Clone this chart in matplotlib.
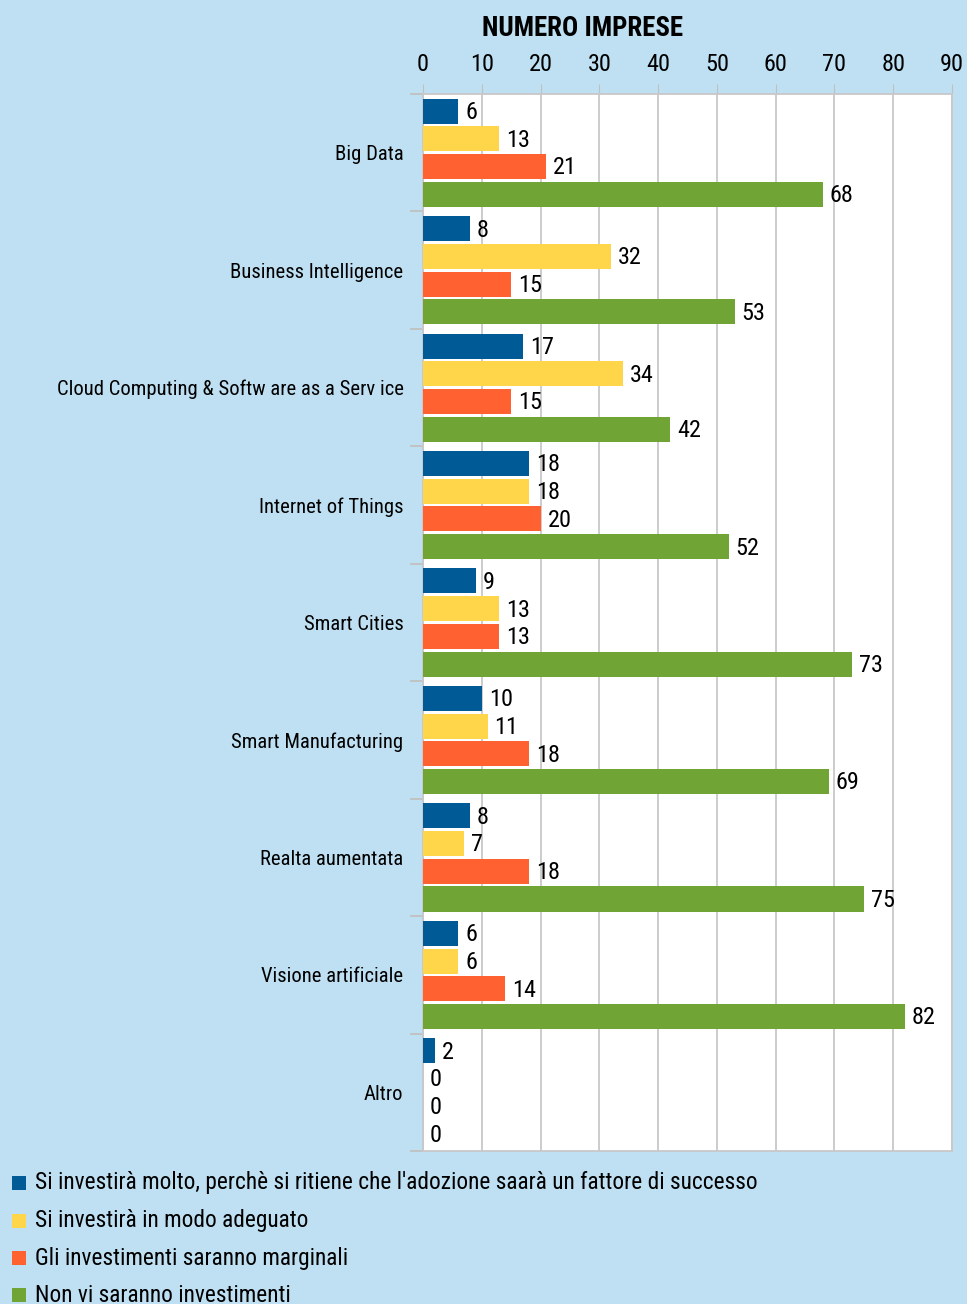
import matplotlib
matplotlib.use("Agg")
import matplotlib.pyplot as plt
from matplotlib.patches import Rectangle
import numpy as np

categories = ["Big Data", "Business Intelligence", "Cloud Computing & Softw are as a Serv ice",
              "Internet of Things", "Smart Cities", "Smart Manufacturing",
              "Realta aumentata", "Visione artificiale", "Altro"]
series_names = ["Si investirà molto, perchè si ritiene che l'adozione saarà un fattore di successo",
                "Si investirà in modo adeguato",
                "Gli investimenti saranno marginali",
                "Non vi saranno investimenti"]
molto = [6, 8, 17, 18, 9, 10, 8, 6, 2]
adeguato = [13, 32, 34, 18, 13, 11, 7, 6, 0]
marginali = [21, 15, 15, 20, 13, 18, 18, 14, 0]
nessuno = [68, 53, 42, 52, 73, 69, 75, 82, 0]
xticks = [0, 10, 20, 30, 40, 50, 60, 70, 80, 90]
title = "NUMERO IMPRESE"

colors = ["#005A96", "#FFD54A", "#FF6130", "#70A535"]
bg = "#BEE0F2"
plt.rcParams['font.family'] = ['Roboto Condensed', 'DejaVu Sans']

fig = plt.figure(figsize=(9.67, 13.04), dpi=100, facecolor=bg)
ax = fig.add_axes([0.4374, 0.1173, 0.5471, 0.8106])
ax.set_facecolor("white")

y = np.arange(len(categories))
step = 0.236
h = 0.213
all_series = [molto, adeguato, marginali, nessuno]
for k, (vals, c) in enumerate(zip(all_series, colors)):
    pos = y + (k - 1.5) * step
    ax.barh(pos, vals, height=h, color=c, zorder=3)
    for p, v in zip(pos, vals):
        ax.annotate(str(v), (v, p), xytext=(5, -1), textcoords="offset points",
                    ha="left", va="center", fontsize=17.5, color="black")

ax.set_xlim(0, 90)
ax.set_ylim(len(categories) - 0.5, -0.5)
ax.set_xticks(xticks)
ax.xaxis.tick_top()
ax.tick_params(axis="x", which="major", length=7, color="#C0C0C0", labelsize=17.5, pad=6)
ax.grid(axis="x", color="#C8C8C8", linewidth=1.3, zorder=0)
ax.set_yticks(y)
ax.set_yticklabels(categories, fontsize=14.9)
ax.set_yticks(np.arange(-0.5, len(categories)), minor=True)
ax.tick_params(axis="y", which="major", length=0, pad=14)
ax.tick_params(axis="y", which="minor", length=9.5, color="#C0C0C0", width=1.3)
for s in ax.spines.values():
    s.set_color("#C8C8C8")
    s.set_linewidth(1.3)

fig.text(0.6025, 0.978, title, ha="center", va="center", fontsize=19.4, fontweight="bold")

leg_y = [1183, 1221, 1258, 1295]
for name, c, yy in zip(series_names, colors, leg_y):
    fy = 1 - yy / 1304
    fig.patches.append(Rectangle((12 / 967, fy - 7 / 1304), 14 / 967, 14 / 1304,
                                 transform=fig.transFigure, facecolor=c, edgecolor="none"))
    fig.text(35 / 967, fy, name, ha="left", va="center", fontsize=16.8)

fig.savefig("out.png", dpi=100, facecolor=bg)
